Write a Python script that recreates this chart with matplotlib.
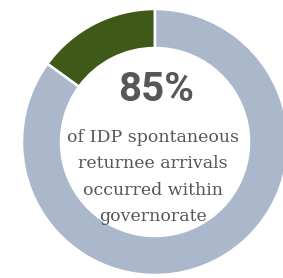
import matplotlib
matplotlib.use("Agg")
import matplotlib.pyplot as plt

# --- data ---
labels = ["Within governorate", "Other"]
shares = [85, 15]
colors = ["#abb7cb", "#3f5a18"]
headline = "85%"
caption = "of IDP spontaneous\nreturnee arrivals\noccurred within\ngovernorate"

W, H = 283, 278
fig = plt.figure(figsize=(W / 100, H / 100), dpi=100)
ax = fig.add_axes([0, 0, 1, 1])

# green slice first so it sits just left of 12 o'clock
ax.pie(shares[::-1], colors=colors[::-1], startangle=90, counterclock=True,
       center=(155, H - 142), radius=133,
       wedgeprops=dict(width=39, edgecolor="white", linewidth=1.8))

ax.set_xlim(0, W)
ax.set_ylim(0, H)
ax.set_aspect("equal")
ax.axis("off")

ax.text(156, H - 90, headline, ha="center", va="center", fontsize=29,
        fontweight="bold", color="#575757", family="Roboto")
ax.text(153, H - 177, caption, ha="center", va="center", fontsize=12.5,
        color="#575757", family="DejaVu Serif", linespacing=1.72)

fig.savefig("out.png", dpi=100)
